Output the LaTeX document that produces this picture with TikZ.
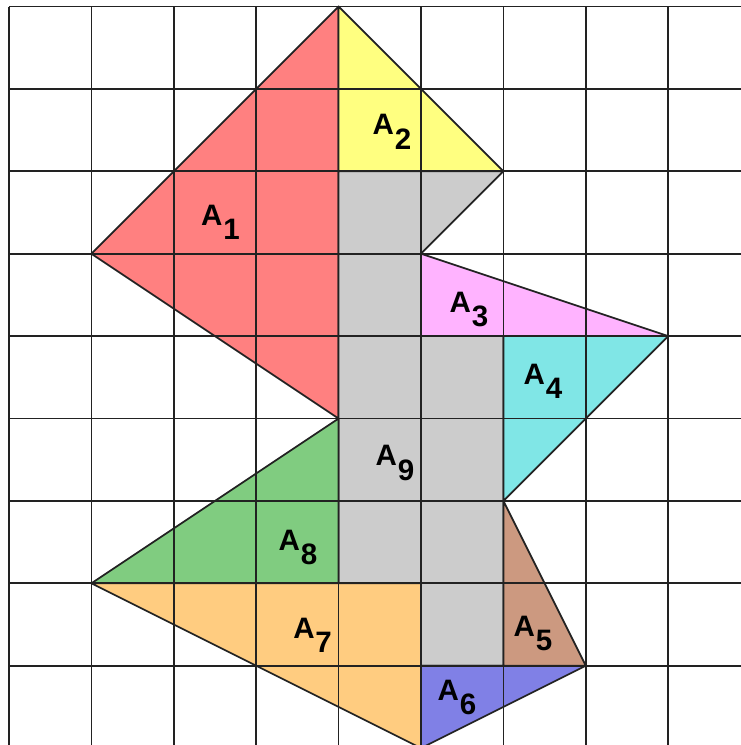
\documentclass[tikz,border=0pt]{standalone}
\usepackage{fontspec}
\setmainfont{Liberation Sans}
\newcommand\arealab[1]{A\kern0.03em\raisebox{-0.48em}{#1}}
\definecolor{cRed}{HTML}{FF8080}
\definecolor{cYel}{HTML}{FFFF80}
\definecolor{cGray}{HTML}{CCCCCC}
\definecolor{cPink}{HTML}{FFB3FF}
\definecolor{cCyan}{HTML}{80E6E6}
\definecolor{cGreen}{HTML}{80CC80}
\definecolor{cOrange}{HTML}{FFCC80}
\definecolor{cBrown}{HTML}{CC9980}
\definecolor{cBlue}{HTML}{8080E6}
\definecolor{cLine}{HTML}{222222}
\begin{document}
\begin{tikzpicture}[x=1cm,y=-1cm,
  region/.style={draw=cLine,line width=0.6pt,line join=round},
  gridline/.style={draw=cLine,line width=0.6pt},
  lab/.style={anchor=base west,inner sep=0pt,font=\bfseries\fontsize{10.2}{12}\selectfont}]
\useasboundingbox (-0.109,-0.079) rectangle (8.883,8.962);
\begin{scope}
\clip (-0.109,-0.079) rectangle (8.883,8.962);
\fill[white] (-0.109,-0.079) rectangle (8.883,8.962);
% regions
\filldraw[region,fill=cRed] (4,0) -- (1,3) -- (4,5) -- cycle;
\filldraw[region,fill=cYel] (4,0) -- (6,2) -- (4,2) -- cycle;
\filldraw[region,fill=cGray] (4,2) -- (6,2) -- (5,3) -- (5,4) -- (6,4) -- (6,8) -- (5,8) -- (5,7) -- (4,7) -- cycle;
\filldraw[region,fill=cPink] (5,3) -- (8,4) -- (5,4) -- cycle;
\filldraw[region,fill=cCyan] (6,4) -- (8,4) -- (6,6) -- cycle;
\filldraw[region,fill=cGreen] (4,5) -- (1,7) -- (4,7) -- cycle;
\filldraw[region,fill=cOrange] (1,7) -- (5,7) -- (5,9) -- cycle;
\filldraw[region,fill=cBlue] (5,8) -- (7,8) -- (5,9) -- cycle;
\filldraw[region,fill=cBrown] (6,6) -- (7,8) -- (6,8) -- cycle;
% grid
\foreach \i in {0,...,9} {
  \draw[gridline] (\i,0) -- (\i,9.2);
  \draw[gridline] (0,\i) -- (9.2,\i);
}
\end{scope}
% labels
\node[lab] (a1) at (2.326,2.652) {\arealab{1}};
\node[lab] (a2) at (4.405,1.559) {\arealab{2}};
\node[lab] (a3) at (5.340,3.716) {\arealab{3}};
\node[lab] (a4) at (6.238,4.581) {\arealab{4}};
\node[lab] (a5) at (6.117,7.640) {\arealab{5}};
\node[lab] (a6) at (5.194,8.416) {\arealab{6}};
\node[lab] (a7) at (3.443,7.667) {\arealab{7}};
\node[lab] (a8) at (3.265,6.596) {\arealab{8}};
\node[lab] (a9) at (4.442,5.576) {\arealab{9}};
\end{tikzpicture}
\end{document}
